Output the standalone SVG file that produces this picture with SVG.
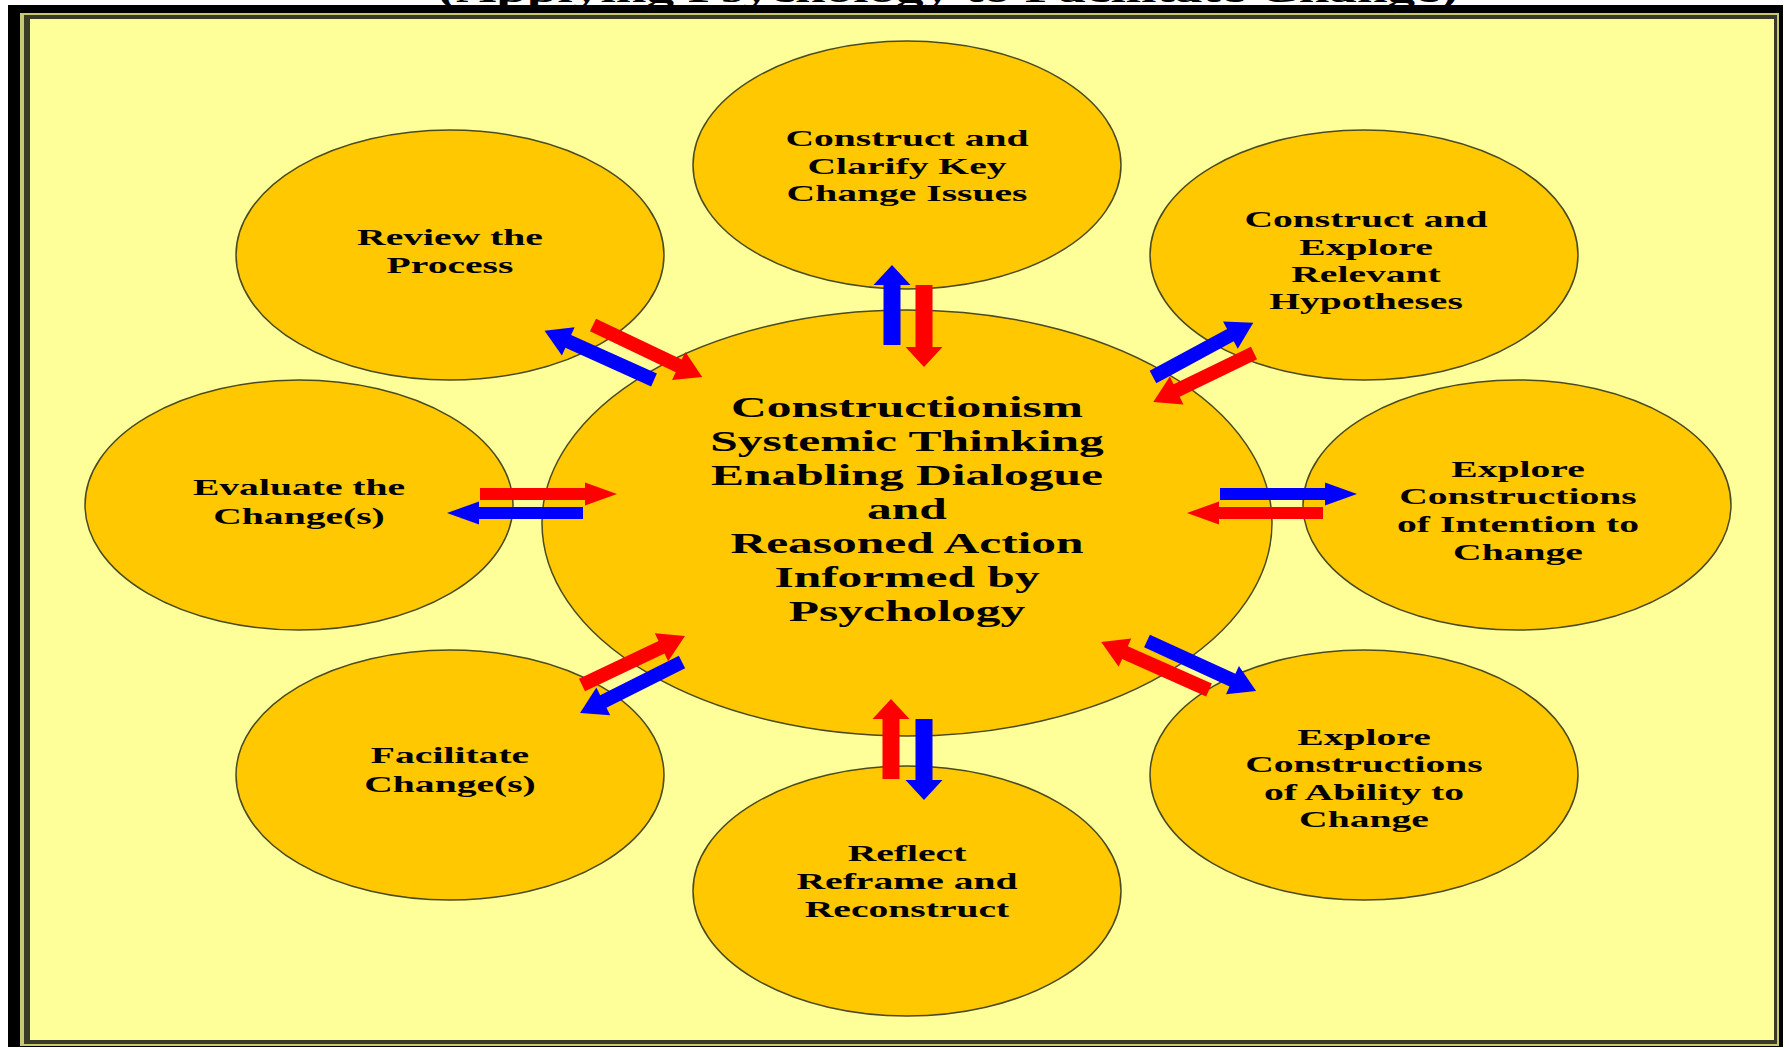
<svg xmlns="http://www.w3.org/2000/svg" width="1789" height="1048" viewBox="0 0 1789 1048">
<style>
.node ellipse{fill:#FFC800;stroke:#4a4a22;stroke-width:1.5}
.node text,.title{font-family:"Liberation Serif","Times New Roman",serif;font-weight:bold;fill:#000;text-anchor:middle}
.node text{font-size:24px}
#center text{font-size:30px}
.red{fill:#FF0000}
.blue{fill:#0000FF}
</style>
<rect x="0" y="0" width="1789" height="1048" fill="#fff"/>
<text class="title" x="948" y="2" font-size="34" textLength="1020" lengthAdjust="spacingAndGlyphs">(Applying Psychology to Facilitate Change)</text>
<g id="frame">
<rect x="8" y="5" width="1775" height="1042" fill="#000"/>
<rect x="20" y="13" width="1759" height="1033" fill="#c8c870"/>
<rect x="24" y="15" width="1753" height="1029" fill="#3a3a28"/>
<rect x="30" y="19" width="1744" height="1021" fill="#FFFF99"/>
</g>
<g id="center" class="node"><ellipse cx="907" cy="523" rx="365" ry="213"/>
<text transform="translate(907,0) scale(1.65,1)"><tspan x="0" y="417">Constructionism</tspan><tspan x="0" y="451">Systemic Thinking</tspan><tspan x="0" y="485">Enabling Dialogue</tspan><tspan x="0" y="519">and</tspan><tspan x="0" y="553">Reasoned Action</tspan><tspan x="0" y="587">Informed by</tspan><tspan x="0" y="621">Psychology</tspan></text></g>
<g id="n-top" class="node"><ellipse cx="907" cy="165" rx="214" ry="124"/>
<text transform="translate(907,0) scale(1.65,1)"><tspan x="0" y="146">Construct and</tspan><tspan x="0" y="174">Clarify Key</tspan><tspan x="0" y="201">Change Issues</tspan></text></g>
<g id="n-review" class="node"><ellipse cx="450" cy="255" rx="214" ry="125"/>
<text transform="translate(450,0) scale(1.65,1)"><tspan x="0" y="245">Review the</tspan><tspan x="0" y="273">Process</tspan></text></g>
<g id="n-hyp" class="node"><ellipse cx="1364" cy="255" rx="214" ry="125"/>
<text transform="translate(1366,0) scale(1.65,1)"><tspan x="0" y="227">Construct and</tspan><tspan x="0" y="255">Explore</tspan><tspan x="0" y="282">Relevant</tspan><tspan x="0" y="309">Hypotheses</tspan></text></g>
<g id="n-eval" class="node"><ellipse cx="299" cy="505" rx="214" ry="125"/>
<text transform="translate(299,0) scale(1.65,1)"><tspan x="0" y="495">Evaluate the</tspan><tspan x="0" y="524">Change(s)</tspan></text></g>
<g id="n-intent" class="node"><ellipse cx="1517" cy="505" rx="214" ry="125"/>
<text transform="translate(1518,0) scale(1.65,1)"><tspan x="0" y="477">Explore</tspan><tspan x="0" y="504">Constructions</tspan><tspan x="0" y="532">of Intention to</tspan><tspan x="0" y="560">Change</tspan></text></g>
<g id="n-facil" class="node"><ellipse cx="450" cy="775" rx="214" ry="125"/>
<text transform="translate(450,0) scale(1.65,1)"><tspan x="0" y="763">Facilitate</tspan><tspan x="0" y="792">Change(s)</tspan></text></g>
<g id="n-ability" class="node"><ellipse cx="1364" cy="775" rx="214" ry="125"/>
<text transform="translate(1364,0) scale(1.65,1)"><tspan x="0" y="745">Explore</tspan><tspan x="0" y="772">Constructions</tspan><tspan x="0" y="800">of Ability to</tspan><tspan x="0" y="827">Change</tspan></text></g>
<g id="n-reflect" class="node"><ellipse cx="907" cy="891" rx="214" ry="125"/>
<text transform="translate(907,0) scale(1.65,1)"><tspan x="0" y="861">Reflect</tspan><tspan x="0" y="889">Reframe and</tspan><tspan x="0" y="917">Reconstruct</tspan></text></g>
<g id="connectors">
<polygon class="blue" transform="translate(892,345) rotate(-90)" points="0,-8.5 60,-8.5 60,-18.5 80,0 60,18.5 60,8.5 0,8.5"/>
<polygon class="red" transform="translate(924,285) rotate(90)" points="0,-8.5 62,-8.5 62,-18.5 82,0 62,18.5 62,8.5 0,8.5"/>
<polygon class="red" transform="translate(891,779) rotate(-90)" points="0,-8.5 60,-8.5 60,-18.5 80,0 60,18.5 60,8.5 0,8.5"/>
<polygon class="blue" transform="translate(924,719) rotate(90)" points="0,-8.5 61,-8.5 61,-18.5 81,0 61,18.5 61,8.5 0,8.5"/>
<polygon class="red" transform="translate(480,494)" points="0,-6 105,-6 105,-11.5 137,0 105,11.5 105,6 0,6"/>
<polygon class="blue" transform="translate(583,513) rotate(180)" points="0,-6 104,-6 104,-11.5 136,0 104,11.5 104,6 0,6"/>
<polygon class="blue" transform="translate(1220,494)" points="0,-6 105,-6 105,-11.5 137,0 105,11.5 105,6 0,6"/>
<polygon class="red" transform="translate(1323,513) rotate(180)" points="0,-6 104,-6 104,-11.5 136,0 104,11.5 104,6 0,6"/>
<polygon class="blue" transform="translate(654,380) rotate(204.2)" points="0,-7 94,-7 94,-15.5 120,0 94,15.5 94,7 0,7"/>
<polygon class="red" transform="translate(593,325) rotate(25.5)" points="0,-7 95,-7 95,-15.5 121,0 95,15.5 95,7 0,7"/>
<polygon class="blue" transform="translate(1153,377) rotate(-28.4)" points="0,-7 88,-7 88,-15.5 114,0 88,15.5 88,7 0,7"/>
<polygon class="red" transform="translate(1254,353) rotate(154.1)" points="0,-7 86,-7 86,-15.5 112,0 86,15.5 86,7 0,7"/>
<polygon class="blue" transform="translate(1147,641) rotate(24.6)" points="0,-7 94,-7 94,-15.5 120,0 94,15.5 94,7 0,7"/>
<polygon class="red" transform="translate(1209,690) rotate(204)" points="0,-7 92,-7 92,-15.5 118,0 92,15.5 92,7 0,7"/>
<polygon class="red" transform="translate(582,685) rotate(-25.4)" points="0,-7 88,-7 88,-15.5 114,0 88,15.5 88,7 0,7"/>
<polygon class="blue" transform="translate(682,662) rotate(153.4)" points="0,-7 88,-7 88,-15.5 114,0 88,15.5 88,7 0,7"/>
</g>
</svg>
